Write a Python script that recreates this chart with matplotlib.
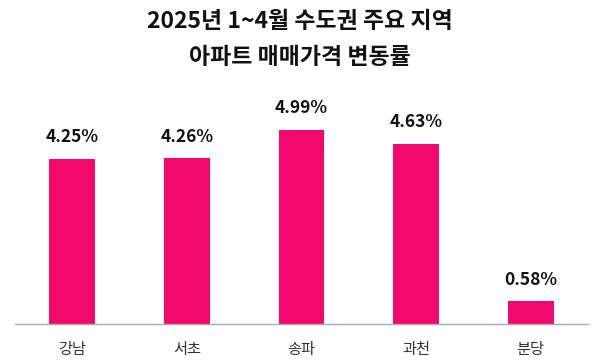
import matplotlib
matplotlib.use("Agg")
import matplotlib.pyplot as plt

plt.rcParams['font.family'] = ['Noto Sans CJK KR', 'DejaVu Sans']

categories = ['강남', '서초', '송파', '과천', '분당']
values = [4.25, 4.26, 4.99, 4.63, 0.58]
value_labels = ['4.25%', '4.26%', '4.99%', '4.63%', '0.58%']
title_lines = ['2025년 1~4월 수도권 주요 지역', '아파트 매매가격 변동률']

W, H = 600, 361
fig = plt.figure(figsize=(W / 100, H / 100), dpi=100)
ax = fig.add_axes([15 / W, (H - 324) / H, (588 - 15) / W, (324 - 110) / H])

x = list(range(len(categories)))
bars = ax.bar(x, values, width=0.4, color='#F3096E', zorder=2)
ax.set_xlim(-0.5, len(categories) - 0.5)
ax.set_ylim(0, 5.5)

for xi, v, lab in zip(x, values, value_labels):
    ax.annotate(lab, (xi, v), xytext=(0, 9), textcoords='offset points',
                ha='center', va='bottom', fontsize=12.5, fontweight='bold',
                color='#111111')

for s in ['top', 'right', 'left']:
    ax.spines[s].set_visible(False)
ax.spines['bottom'].set_color('#aaaaaa')
ax.spines['bottom'].set_linewidth(1.0)
ax.set_yticks([])
ax.set_xticks(x)
ax.set_xticklabels(categories, fontsize=11, color='#333333')
ax.tick_params(axis='x', length=0, pad=12)

fig.text(0.5, 1 - 22 / H, title_lines[0], ha='center', va='center',
         fontsize=16.5, fontweight='bold', color='#111111')
fig.text(0.5, 1 - 57 / H, title_lines[1], ha='center', va='center',
         fontsize=16.5, fontweight='bold', color='#111111')

fig.savefig('out.png', dpi=100)
